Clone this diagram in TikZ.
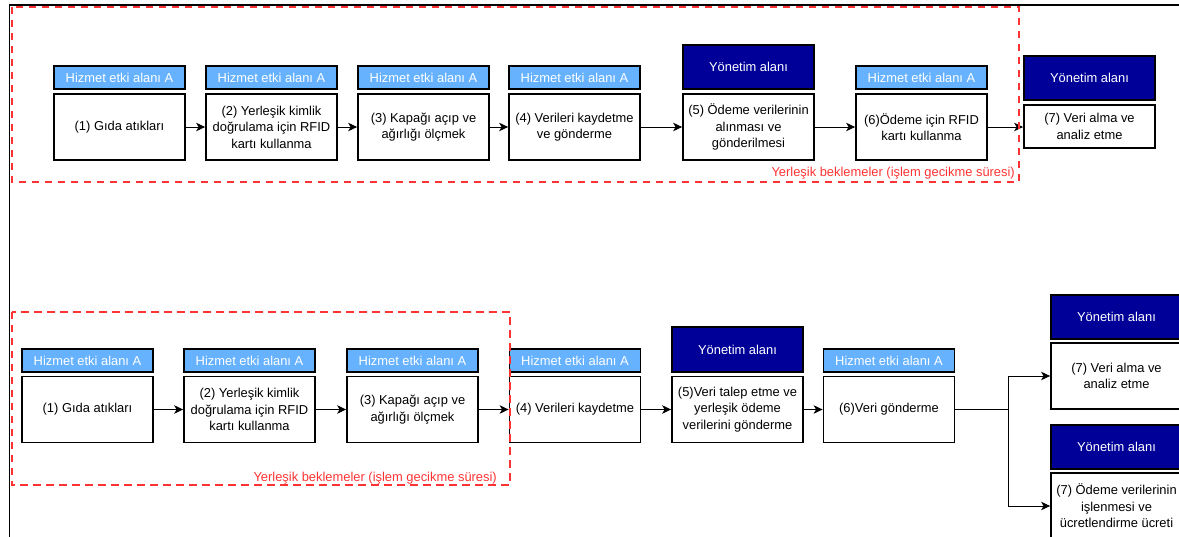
\documentclass[tikz,border=0pt]{standalone}
\usepackage{fontspec}
\setmainfont{Liberation Sans}
\usetikzlibrary{arrows.meta}
\definecolor{svcblue}{HTML}{66B2FF}
\definecolor{mgmtblue}{HTML}{000099}
\definecolor{waitred}{HTML}{FF3333}
\newcommand\diafont{\fontsize{12.9}{16.5}\selectfont}

\begin{document}
\begin{tikzpicture}[x=1pt,y=-1pt,
  box/.style={draw=black, line width=1.8pt, fill=white, minimum width=131pt,
    inner sep=0pt, align=center, font=\diafont},
  body/.style={box, minimum height=66pt},
  svc/.style={box, fill=svcblue, minimum height=23pt, text=white},
  mgmt/.style={box, fill=mgmtblue, minimum height=44pt, text=white},
  arr/.style={-{Stealth[length=9pt,width=8.5pt,inset=2.5pt]}, line width=0.9pt},
  wait/.style={draw=waitred, dash pattern=on 7.5pt off 5.5pt, line width=1.8pt},
  waitlbl/.style={text=waitred, anchor=base east, inner sep=0pt, font=\diafont}
]
\useasboundingbox (0,0) rectangle (1179,537);
\clip (0,0) rectangle (1179,537);

% outer frame
\draw[line width=1.4pt] (1200,5) -- (9.5,5) -- (9.5,560);

% ---------- upper flow ----------
\node[svc]  (t1h) at (119.5,77.5) {Hizmet etki alanı A};
\node[body] (t1)  at (119.5,127)  {(1) Gıda atıkları};
\node[svc]  (t2h) at (271.5,77.5) {Hizmet etki alanı A};
\node[body] (t2)  at (271.5,127)  {(2) Yerleşik kimlik\\doğrulama için RFID\\kartı kullanma};
\node[svc]  (t3h) at (423.5,77.5) {Hizmet etki alanı A};
\node[body] (t3)  at (423.5,127)  {(3) Kapağı açıp ve\\ağırlığı ölçmek};
\node[svc]  (t4h) at (574.5,77.5) {Hizmet etki alanı A};
\node[body] (t4)  at (574.5,127)  {(4) Verileri kaydetme\\ve gönderme};
\node[mgmt] (t5h) at (748.5,67)   {Yönetim alanı};
\node[body] (t5)  at (748.5,127)  {(5) Ödeme verilerinin\\alınması ve\\gönderilmesi};
\node[svc]  (t6h) at (921.5,77.5) {Hizmet etki alanı A};
\node[body] (t6)  at (921.5,127)  {(6)Ödeme için RFID\\kartı kullanma};
\node[mgmt] (t7h) at (1089.5,78)  {Yönetim alanı};
\node[body, minimum height=43pt] (t7) at (1089.5,126.5) {(7) Veri alma ve\\analiz etme};

\draw[arr] (t1) -- (t2);
\draw[arr] (t2) -- (t3);
\draw[arr] (t3) -- (t4);
\draw[arr] (t4) -- (t5);
\draw[arr] (t5) -- (t6);
\draw[arr] (t6.east) -- (t6.east -| t7.west);

\draw[wait] (11.7,7) rectangle (1019,182);
\node[waitlbl] (twait) at (1015,177) {Yerleşik beklemeler (işlem gecikme süresi)};

% ---------- lower flow ----------
\node[svc]  (b1h) at (87.5,360.5)  {Hizmet etki alanı A};
\node[body] (b1)  at (87.5,409.5)  {(1) Gıda atıkları};
\node[svc]  (b2h) at (249.5,360.5) {Hizmet etki alanı A};
\node[body] (b2)  at (249.5,409.5) {(2) Yerleşik kimlik\\doğrulama için RFID\\kartı kullanma};
\node[svc]  (b3h) at (412.5,360.5) {Hizmet etki alanı A};
\node[body] (b3)  at (412.5,409.5) {(3) Kapağı açıp ve\\ağırlığı ölçmek};
\node[svc]  (b4h) at (575,360.5)   {Hizmet etki alanı A};
\node[body] (b4)  at (575,409.5)   {(4) Verileri kaydetme};
\node[mgmt, minimum height=45pt] (b5h) at (737.5,349.5) {Yönetim alanı};
\node[body] (b5)  at (737.5,409.5) {(5)Veri talep etme ve\\yerleşik ödeme\\verilerini gönderme};
\node[svc]  (b6h) at (889,360.5)   {Hizmet etki alanı A};
\node[body] (b6)  at (889,409.5)   {(6)Veri gönderme};
\node[mgmt] (b7ah) at (1116.5,317) {Yönetim alanı};
\node[body] (b7a)  at (1116.5,376) {(7) Veri alma ve\\analiz etme};
\node[mgmt] (b7bh) at (1116.5,447) {Yönetim alanı};
\node[body] (b7b)  at (1116.5,506) {(7) Ödeme verilerinin\\işlenmesi ve\\ücretlendirme ücreti};

\draw[arr] (b1) -- (b2);
\draw[arr] (b2) -- (b3);
\draw[arr] (b3) -- (b4);
\draw[arr] (b4) -- (b5);
\draw[arr] (b5) -- (b6);
\coordinate (split) at (1008,409.5);
\draw[line width=0.9pt] (b6.east) -- (split);
\draw[arr] (split) |- (b7a.west);
\draw[arr] (split) |- (b7b.west);

\draw[wait] (11.7,311.7) rectangle (510,485);
\node[waitlbl] (bwait) at (497,482) {Yerleşik beklemeler (işlem gecikme süresi)};
\end{tikzpicture}
\end{document}
